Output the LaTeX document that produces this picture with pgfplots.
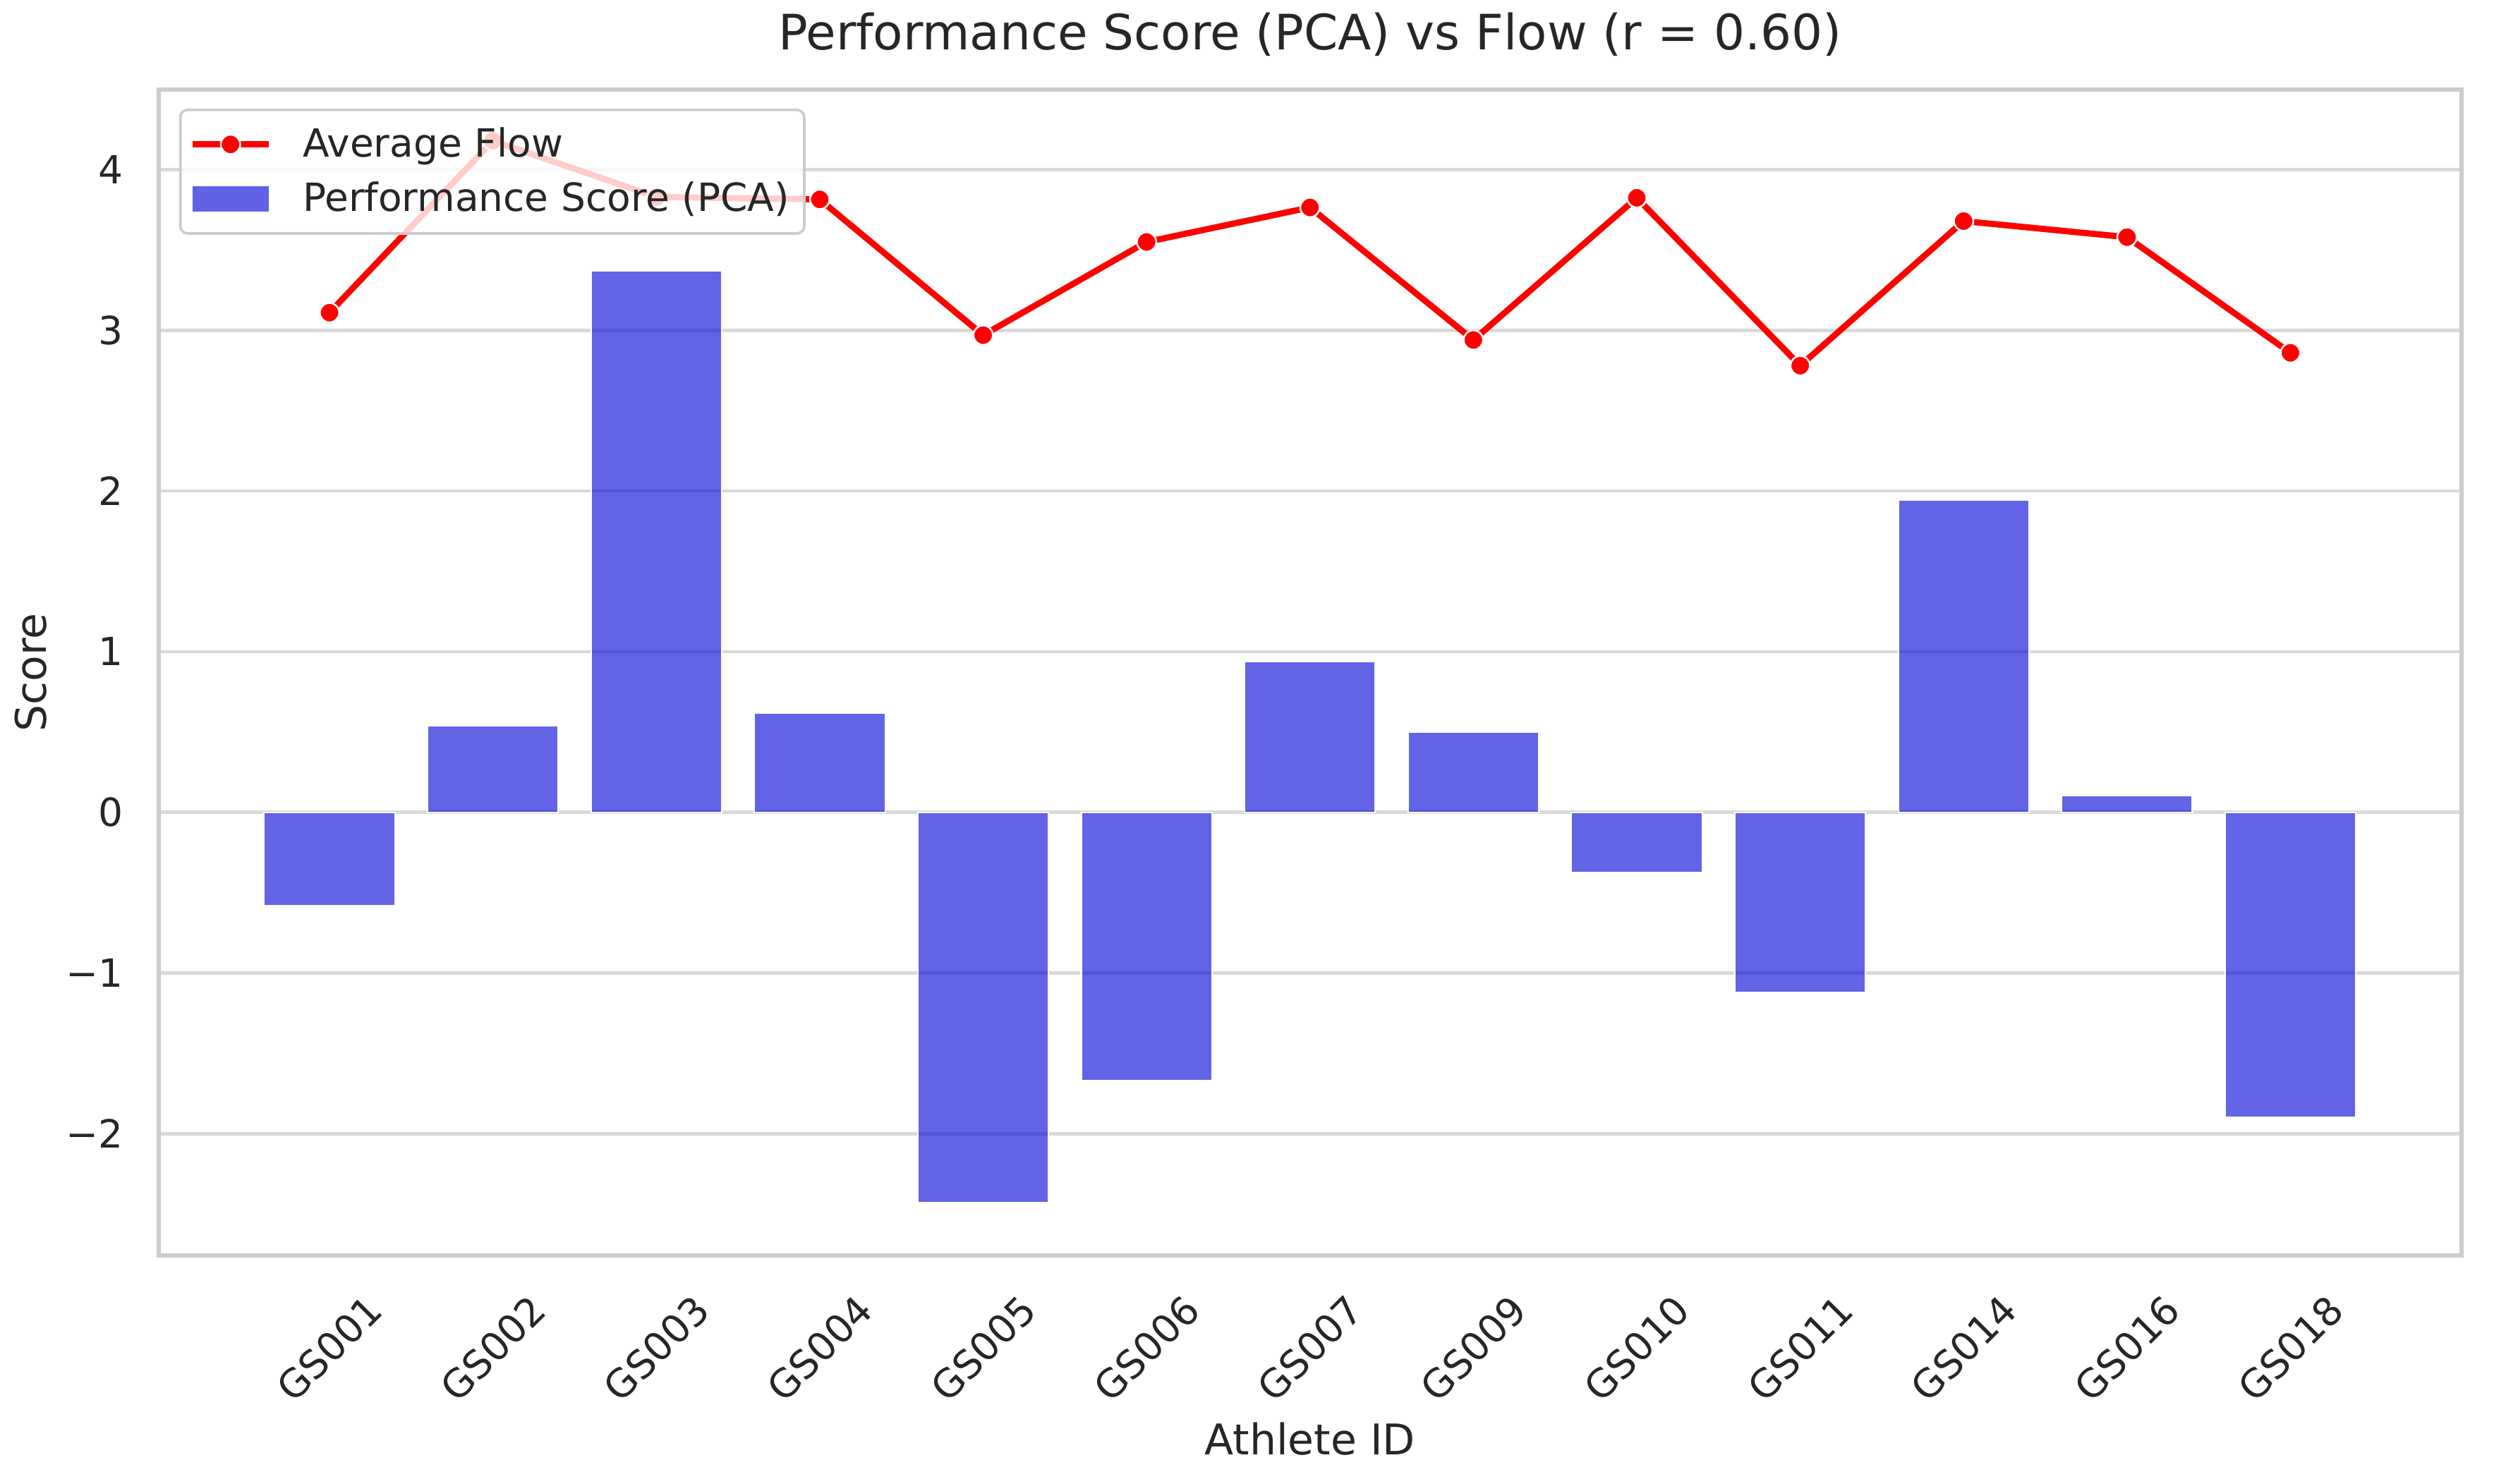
\documentclass[border=0pt]{standalone}
\usepackage{fontspec}
\setmainfont{DejaVu Sans}
\usepackage{pgfplots}
\pgfplotsset{compat=1.18}
\definecolor{txt}{gray}{0.15}
\definecolor{gridc}{gray}{0.85}
\definecolor{framec}{gray}{0.8}
\definecolor{barc}{RGB}{0,0,214}
\begin{document}
\begin{tikzpicture}
\begin{axis}[
  at={(0,0)}, anchor=south west,
  scale only axis, width=782.9pt, height=396.4pt,
  xmin=-1.045, xmax=13.046, ymin=-2.757, ymax=4.498,
  xtick={0,...,12},
  xticklabels={GS001,GS002,GS003,GS004,GS005,GS006,GS007,GS009,GS010,GS011,GS014,GS016,GS018},
  ytick={-2,...,4}, yticklabels={−2,−1,0,1,2,3,4},
  major tick length=0pt,
  ymajorgrids, grid style={gridc, line width=1.1pt},
  axis line style={framec, line width=1.4pt},
  tick label style={font=\fontsize{13.2}{15}\selectfont, text=txt},
  xticklabel style={yshift=-31.7pt, rotate=45, anchor=center, inner sep=0pt},
  yticklabel style={anchor=east, inner sep=0pt, xshift=-12pt},
  xlabel={Athlete ID}, ylabel={Score},
  label style={font=\fontsize{14.4}{17}\selectfont, text=txt},
  xlabel style={at={(axis description cs:0.5,-0.1574)}, anchor=center},
  ylabel style={at={(axis description cs:-0.0557,0.5)}, anchor=center},
  title={Performance Score (PCA) vs Flow (r = 0.60)},
  title style={at={(axis description cs:0.5,1)}, anchor=base, yshift=7.6pt, font=\fontsize{16.6}{20}\selectfont, text=txt},
  reverse legend,
  legend cell align=left,
  legend style={at={(axis description cs:0,1)}, anchor=north west, xshift=6.9pt, yshift=-6.4pt,
    draw=framec, line width=0.9pt, rounded corners=2.5pt, fill=white, fill opacity=0.8, text opacity=1,
    font=\fontsize{13.2}{15}\selectfont, text=txt, inner xsep=3pt, inner ysep=4pt, row sep=3pt,
    column sep=8.5pt, nodes={inner sep=2pt}},
]
\addplot[ybar, bar width=0.8, fill=barc, fill opacity=0.61, draw=white, line width=0.5pt,
  legend image code/.code={\path[fill=barc, fill opacity=0.61, draw=none, sharp corners] (0pt,-4.4pt) rectangle (26pt,4.4pt);}]
coordinates {
(0,-0.58) (1,0.54) (2,3.37) (3,0.62) (4,-2.43) (5,-1.67) (6,0.94)
(7,0.50) (8,-0.375) (9,-1.12) (10,1.945) (11,0.105) (12,-1.90)
};
\addlegendentry{Performance Score (PCA)}
\addplot[red, line width=2.1pt, mark=*, mark size=3.3pt,
  mark options={fill=red, draw=white, line width=0.6pt},
  legend image code/.code={\draw[red, line width=2.1pt, fill opacity=1, sharp corners, mark=*, mark size=3.3pt, mark options={fill=red, draw=white, line width=0.6pt}, mark repeat=2, mark phase=2] plot coordinates {(0pt,0pt) (13pt,0pt) (26pt,0pt)};}]
coordinates {
(0,3.11) (1,4.18) (2,3.83) (3,3.815) (4,2.97) (5,3.55) (6,3.765)
(7,2.94) (8,3.825) (9,2.78) (10,3.68) (11,3.58) (12,2.86)
};
\addlegendentry{Average Flow}
\end{axis}
\pgfresetboundingbox
\path[use as bounding box] (-53.97pt,-77.6pt) rectangle (794.0pt,426.9pt);
\end{tikzpicture}
\end{document}
